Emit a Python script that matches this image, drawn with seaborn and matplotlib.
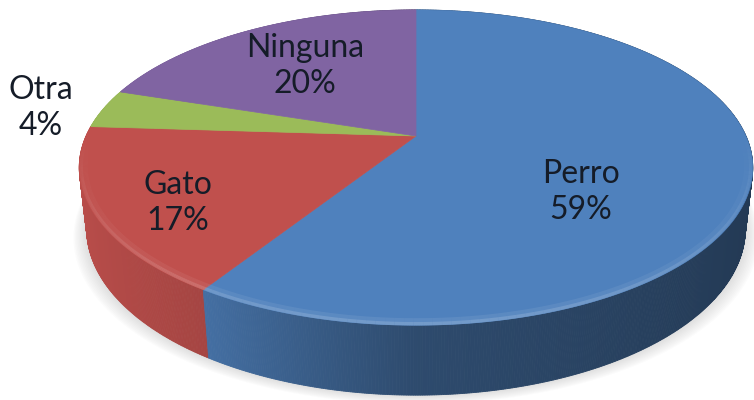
import numpy as np
import matplotlib
matplotlib.use("Agg")
import matplotlib.pyplot as plt
import seaborn as sns
from matplotlib.colors import to_rgb

# Pet preference shares
categories = ["Perro", "Gato", "Otra", "Ninguna"]
values = [59, 17, 4, 20]
colors = ["#4F81BD", "#C0504D", "#9BBB59", "#8064A2"]

sns.set_theme(style="white")
plt.rcParams["font.family"] = ["Lato", "DejaVu Sans"]

# Camera / perspective set-up for a tilted disc
PHI = np.radians(27.3)
S, C = np.sin(PHI), np.cos(PHI)
DIST = 4.44
FOCAL = 1465.0
CX, CY = 416.0, 136.0
THICK = 0.21


def project(x, y, z):
    depth = DIST - y * S - z * C
    sx = FOCAL * x / depth
    sy = FOCAL * (y * C - z * S) / depth
    return CX + sx, CY - sy


def rim(theta, y=0.0, r=1.0):
    # theta measured clockwise from the far side of the disc
    return project(r * np.sin(theta), y, -r * np.cos(theta))


def wall_shade(theta):
    # light comes from the left: bright on the left wall, dark on the right
    return np.interp(np.sin(theta), [-1.0, -0.53, -0.2, 0.0, 1.0],
                     [0.97, 0.86, 0.68, 0.58, 0.44])


fig = plt.figure(figsize=(7.54, 4.0), dpi=100)
ax = fig.add_axes([0, 0, 1, 1])
ax.set_xlim(0, 754)
ax.set_ylim(400, 0)
ax.axis("off")

fracs = np.array(values, dtype=float) / np.sum(values)
bounds = np.concatenate([[0.0], np.cumsum(fracs)]) * 2 * np.pi

# Soft shadow beneath the disc
full = np.linspace(0, 2 * np.pi, 400)
bx, by = rim(full, y=-THICK)
bcx = bx.mean()
for k in range(10, 0, -1):
    grow = 1 + k * 0.004
    ax.fill(bcx + (bx - bcx) * grow, by + k * 0.9, color="#7a7a7a", alpha=0.022, lw=0)

# Side wall, painted far to near
segs = []
for i in range(len(values)):
    n = max(int(np.degrees(bounds[i + 1] - bounds[i]) * 3), 4)
    th = np.linspace(bounds[i], bounds[i + 1], n + 1)
    for a, b in zip(th[:-1], th[1:]):
        m = 0.5 * (a + b)
        segs.append((DIST + np.cos(m) * C, a, b, i))
segs.sort(key=lambda t: -t[0])
for _, a, b, i in segs:
    m = 0.5 * (a + b)
    col = np.clip(np.array(to_rgb(colors[i])) * wall_shade(m), 0, 1)
    xa, ya = rim(a)
    xb, yb = rim(b)
    xa2, ya2 = rim(a, y=-THICK)
    xb2, yb2 = rim(b, y=-THICK)
    ax.fill([xa, xb, xb2, xa2], [ya, yb, yb2, ya2], color=col, lw=0.6, ec=col)

# Top face wedges
for i in range(len(values)):
    th = np.linspace(bounds[i], bounds[i + 1], 200)
    px, py = rim(th)
    ax.fill(np.concatenate([[CX], px]), np.concatenate([[CY], py]),
            color=colors[i], lw=0.5, ec=colors[i])

# Soft bevel along the near rim of the top face
for i in range(len(values)):
    th = np.linspace(bounds[i], bounds[i + 1], 160)
    base = np.array(to_rgb(colors[i]))
    hi = base + (1 - base) * 0.3
    for a, b in zip(th[:-1], th[1:]):
        m = 0.5 * (a + b)
        front = -np.cos(m)
        if front <= 0:
            continue
        for r, lw, al in [(0.985, 5.0, 0.25), (0.994, 2.5, 0.6)]:
            xa, ya = rim(a, r=r)
            xb, yb = rim(b, r=r)
            ax.plot([xa, xb], [ya, yb], color=hi, lw=lw, alpha=al * front,
                    solid_capstyle="butt")

# Data labels
label_pos = {"Perro": (581, 192), "Gato": (178, 203), "Otra": (41, 108), "Ninguna": (305, 66)}
for cat, val in zip(categories, values):
    x, y = label_pos[cat]
    ax.text(x, y, f"{cat}\n{val}%", ha="center", va="center", fontsize=23,
            color="#151c28", linespacing=1.25)

fig.savefig("out.png", dpi=100)
